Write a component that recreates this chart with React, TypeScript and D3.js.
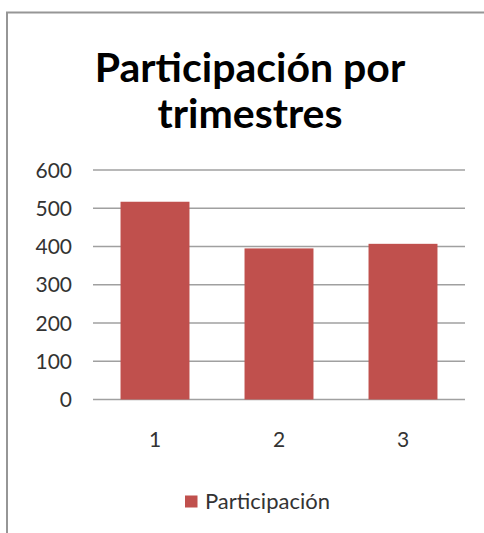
import React from "react";
import * as d3 from "d3";

const categories = ["1", "2", "3"];
const values = [517, 395, 407];
const yTicks = [0, 100, 200, 300, 400, 500, 600];
const seriesName = "Participación";
const titleLines = ["Participación por", "trimestres"];

export default function App() {
  const W = 484, H = 533;
  const left = 93, right = 465, top = 170, bottom = 399.5;
  const x = d3.scaleBand().domain(categories).range([left, right]).paddingInner(0.444).paddingOuter(0.222);
  const y = d3.scaleLinear().domain([0, 600]).range([bottom, top]);
  const font = "Lato, 'Open Sans', sans-serif";
  return (
    <svg width={W} height={H} style={{ position: "absolute", left: 0, top: 0, background: "#fff" }}>
      <path d={`M7,${H} V12.5 H${W}`} fill="none" stroke="#969696" strokeWidth={2} />
      {titleLines.map((t, i) => (
        <text key={i} x={250} y={82 + i * 46} textAnchor="middle" fontFamily={font} fontWeight="bold" fontSize={41} fill="#000">{t}</text>
      ))}
      {yTicks.map((t) => (
        <g key={t}>
          <line x1={left} x2={right} y1={y(t)} y2={y(t)} stroke="#a0a0a0" strokeWidth={1.5} />
          <text x={72} y={y(t)} dy="0.36em" textAnchor="end" fontFamily={font} fontSize={21} fill="#333">{t}</text>
        </g>
      ))}
      {categories.map((c, i) => (
        <g key={c}>
          <rect x={x(c)} y={y(values[i])} width={x.bandwidth()} height={y(0) - y(values[i])} fill="#C0504D" />
          <text x={(x(c) as number) + x.bandwidth() / 2} y={439} dy="0.36em" textAnchor="middle" fontFamily={font} fontSize={21} fill="#333">{c}</text>
        </g>
      ))}
      <rect x={185} y={495.5} width={12.5} height={12} fill="#C0504D" />
      <text x={205} y={501} dy="0.36em" fontFamily={font} fontSize={22} fill="#333">{seriesName}</text>
    </svg>
  );
}
